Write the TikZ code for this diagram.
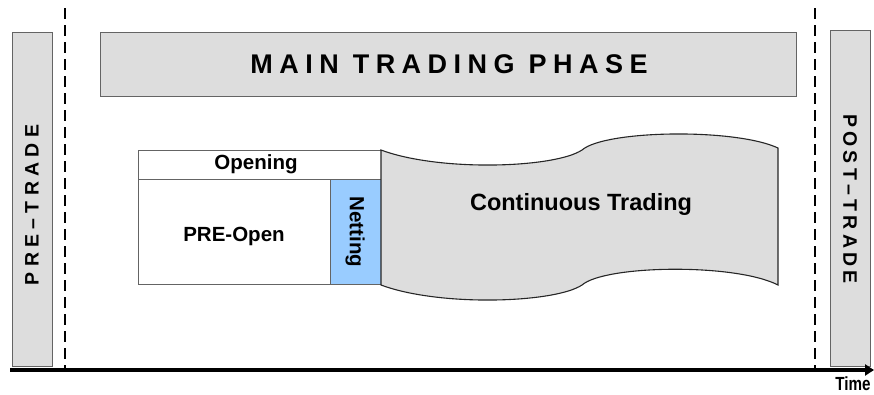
\documentclass[tikz,border=0pt]{standalone}
\usepackage{fontspec}
\setmainfont{Liberation Sans}
\usetikzlibrary{arrows.meta}
\definecolor{boxgray}{RGB}{221,221,221}
\definecolor{edgegray}{RGB}{100,100,100}
\definecolor{netblue}{RGB}{153,204,255}
\tikzset{
  graybox/.style={draw=edgegray, fill=boxgray, line width=1pt, inner sep=0pt},
  whitebox/.style={draw=edgegray, fill=white, line width=1pt, inner sep=0pt},
  bluebox/.style={draw=edgegray, fill=netblue, line width=1pt, inner sep=0pt},
  divider/.style={line width=2.6pt, dash pattern=on 11pt off 6pt},
  lbl/.style={font=\bfseries\fontsize{20.5}{24}\selectfont, inner sep=0pt},
  sidelbl/.style={inner sep=0pt},
}
\begin{document}
\begin{tikzpicture}[x=1pt,y=-1pt]
\useasboundingbox (0,0) rectangle (874,394);
% side boxes
\node[graybox, minimum width=40pt, minimum height=334pt] (pre) at (32,199) {};
\node[graybox, minimum width=40pt, minimum height=336pt] (post) at (850,198) {};
\node[sidelbl, rotate=90] (pretxt) at (32,205) {\fontsize{19.5}{22}\selectfont\addfontfeatures{LetterSpace=27}\bfseries PRE–TRADE};
\node[sidelbl, rotate=-90] (posttxt) at (850,199) {\fontsize{19.5}{22}\selectfont\addfontfeatures{LetterSpace=22}\bfseries POST–TRADE};
% main box
\node[graybox, minimum width=696pt, minimum height=64pt] (main) at (448,64) {};
\node[inner sep=0pt] (maintxt) at (449,64) {\fontsize{27}{32}\selectfont\addfontfeatures{LetterSpace=24}\bfseries MAIN TRADING PHASE};
% dashed dividers
\coordinate (dl0) at (65,8); \coordinate (dl1) at (65,368);
\coordinate (dr0) at (815,8); \coordinate (dr1) at (815,368);
\draw[divider] (dl0) -- (dl1);
\draw[divider] (dr0) -- (dr1);
% opening, pre-open, netting
\node[whitebox, minimum width=243pt, minimum height=29pt] (open) at (259.5,164.5) {};
\node[whitebox, minimum width=192pt, minimum height=105pt] (preopen) at (234,231.5) {};
\node[bluebox, minimum width=51pt, minimum height=105pt] (net) at (355.5,231.5) {};
\node[lbl] at (256,164) {Opening};
\node[lbl] at (234,236) {PRE-Open};
\node[lbl, rotate=-90] at (355,232) {Netting};
% continuous trading wave
\draw[fill=boxgray, line width=1.1pt, draw=black!85]
  (381,150) .. controls (440,172) and (555,168) .. (582,150)
  .. controls (605,130) and (735,128) .. (778,148)
  -- (778,285)
  .. controls (735,263) and (605,265) .. (582,285)
  .. controls (555,303) and (440,307) .. (381,285) -- cycle;
\node[lbl, font=\bfseries\fontsize{23.5}{28}\selectfont] (cont) at (581,204) {Continuous Trading};
% time axis
\coordinate (t0) at (10,370); \coordinate (t1) at (874,370);
\draw[line width=4pt, -{Triangle[length=9pt,width=11pt]}] (t0) -- (t1);
\node[inner sep=0pt, xscale=0.8] (time) at (853,384) {\fontsize{19}{22}\selectfont\bfseries Time};
\end{tikzpicture}
\end{document}
